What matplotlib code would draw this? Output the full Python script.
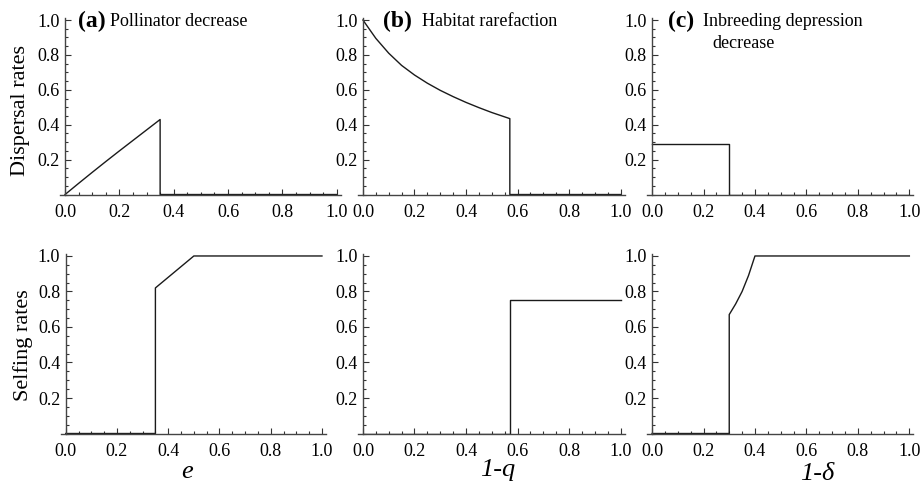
import matplotlib
matplotlib.use("Agg")
import matplotlib.pyplot as plt
from matplotlib.ticker import MultipleLocator, FixedLocator

# (a) pollinator decrease, x = e
a_disp_x = [0, 0.05, 0.1, 0.15, 0.2, 0.25, 0.3, 0.35, 0.35, 1.0]
a_disp_y = [0, 0.064, 0.127, 0.189, 0.25, 0.31, 0.37, 0.43, 0.0, 0.0]
a_self_x = [0, 0.35, 0.35, 0.5, 1.0]
a_self_y = [0, 0, 0.82, 1.0, 1.0]

# (b) habitat rarefaction, x = 1-q
b_disp_x = [0, 0.05, 0.1, 0.15, 0.2, 0.25, 0.3, 0.35, 0.4, 0.45, 0.5, 0.57, 0.57, 1.0]
b_disp_y = [1.0, 0.895, 0.81, 0.74, 0.685, 0.638, 0.597, 0.561, 0.528, 0.498, 0.47, 0.435, 0.0, 0.0]
b_self_x = [0, 0.57, 0.57, 1.0]
b_self_y = [0, 0, 0.75, 0.75]

# (c) inbreeding depression decrease, x = 1-delta
c_disp_x = [0, 0.3, 0.3, 1.0]
c_disp_y = [0.29, 0.29, 0.0, 0.0]
c_self_x = [0, 0.3, 0.3, 0.325, 0.35, 0.375, 0.4, 1.0]
c_self_y = [0, 0, 0.67, 0.73, 0.80, 0.89, 1.0, 1.0]

x_ticks = [0.0, 0.2, 0.4, 0.6, 0.8, 1.0]
y_ticks = [0.2, 0.4, 0.6, 0.8, 1.0]

plt.rcParams['font.family'] = ['Liberation Serif', 'DejaVu Serif']

W, H = 921, 495
fig = plt.figure(figsize=(W / 100, H / 100), dpi=100)


def px_axes(left, top, width, height):
    return fig.add_axes([left / W, 1 - (top + height) / H, width / W, height / H])


def style(ax):
    ax.set_xlim(-0.02, 1.015)
    ax.set_ylim(-0.005, 1.01)
    for s in ['top', 'right']:
        ax.spines[s].set_visible(False)
    ax.spines['left'].set_position(('data', 0))
    ax.spines['bottom'].set_position(('data', 0))
    for s in ['left', 'bottom']:
        ax.spines[s].set_color('#444444')
        ax.spines[s].set_linewidth(1.0)
    ax.xaxis.set_major_locator(FixedLocator(x_ticks))
    ax.yaxis.set_major_locator(FixedLocator(y_ticks))
    ax.xaxis.set_minor_locator(MultipleLocator(0.05))
    ax.yaxis.set_minor_locator(MultipleLocator(0.05))
    ax.set_xticklabels(['%.1f' % t for t in x_ticks])
    ax.set_yticklabels(['%.1f' % t for t in y_ticks])
    ax.tick_params(which='both', direction='in', color='#333333', width=0.8, labelsize=13)
    ax.tick_params(which='major', length=4)
    ax.tick_params(which='minor', length=2)
    ax.tick_params(axis='x', pad=7)
    ax.tick_params(axis='y', pad=4)
    ax.patch.set_alpha(0)


lc = '#1a1a1a'
lw = 1.0

# top row (dispersal)
ax_a1 = px_axes(59.6, 18.3, 281.2, 177.1)
ax_b1 = px_axes(357.8, 18.3, 266.7, 177.1)
ax_c1 = px_axes(646.9, 18.3, 266.3, 177.1)
# bottom row (selfing)
ax_a2 = px_axes(60.6, 254.2, 265.2, 180.2)
ax_b2 = px_axes(357.8, 254.2, 266.7, 180.2)
ax_c2 = px_axes(646.9, 254.2, 266.3, 180.2)

ax_a1.plot(a_disp_x, a_disp_y, color=lc, lw=lw)
ax_b1.plot(b_disp_x, b_disp_y, color=lc, lw=lw)
ax_c1.plot(c_disp_x, c_disp_y, color=lc, lw=lw)
ax_a2.plot(a_self_x, a_self_y, color=lc, lw=lw)
ax_b2.plot(b_self_x, b_self_y, color=lc, lw=lw)
ax_c2.plot(c_self_x, c_self_y, color=lc, lw=lw)

for ax in [ax_a1, ax_b1, ax_c1, ax_a2, ax_b2, ax_c2]:
    style(ax)

# row labels
fig.text(21 / W, 1 - 111 / H, 'Dispersal rates', rotation=90, ha='center', va='center', fontsize=16)
fig.text(23 / W, 1 - 345 / H, 'Selfing rates', rotation=90, ha='center', va='center', fontsize=16)

# panel titles
fig.text(78 / W, 1 - 21 / H, '(a)', fontsize=17, fontweight='bold', ha='left', va='center')
fig.text(110 / W, 1 - 21 / H, 'Pollinator decrease', fontsize=13, ha='left', va='center')
fig.text(383 / W, 1 - 21 / H, '(b)', fontsize=17, fontweight='bold', ha='left', va='center')
fig.text(422 / W, 1 - 21 / H, 'Habitat rarefaction', fontsize=13, ha='left', va='center')
fig.text(668 / W, 1 - 21 / H, '(c)', fontsize=17, fontweight='bold', ha='left', va='center')
fig.text(703 / W, 1 - 21 / H, 'Inbreeding depression', fontsize=13, ha='left', va='center')
fig.text(712 / W, 1 - 43 / H, 'decrease', fontsize=13, ha='left', va='center')

# x-axis variable labels
fig.text(187 / W, 1 - 472 / H, 'e', fontsize=19, style='italic', ha='center', va='center')
fig.text(498 / W, 1 - 470 / H, '1-q', fontsize=19, style='italic', ha='center', va='center')
fig.text(817 / W, 1 - 474 / H, '1-δ', fontsize=19, style='italic', ha='center', va='center')

fig.savefig('out.png', dpi=100)
